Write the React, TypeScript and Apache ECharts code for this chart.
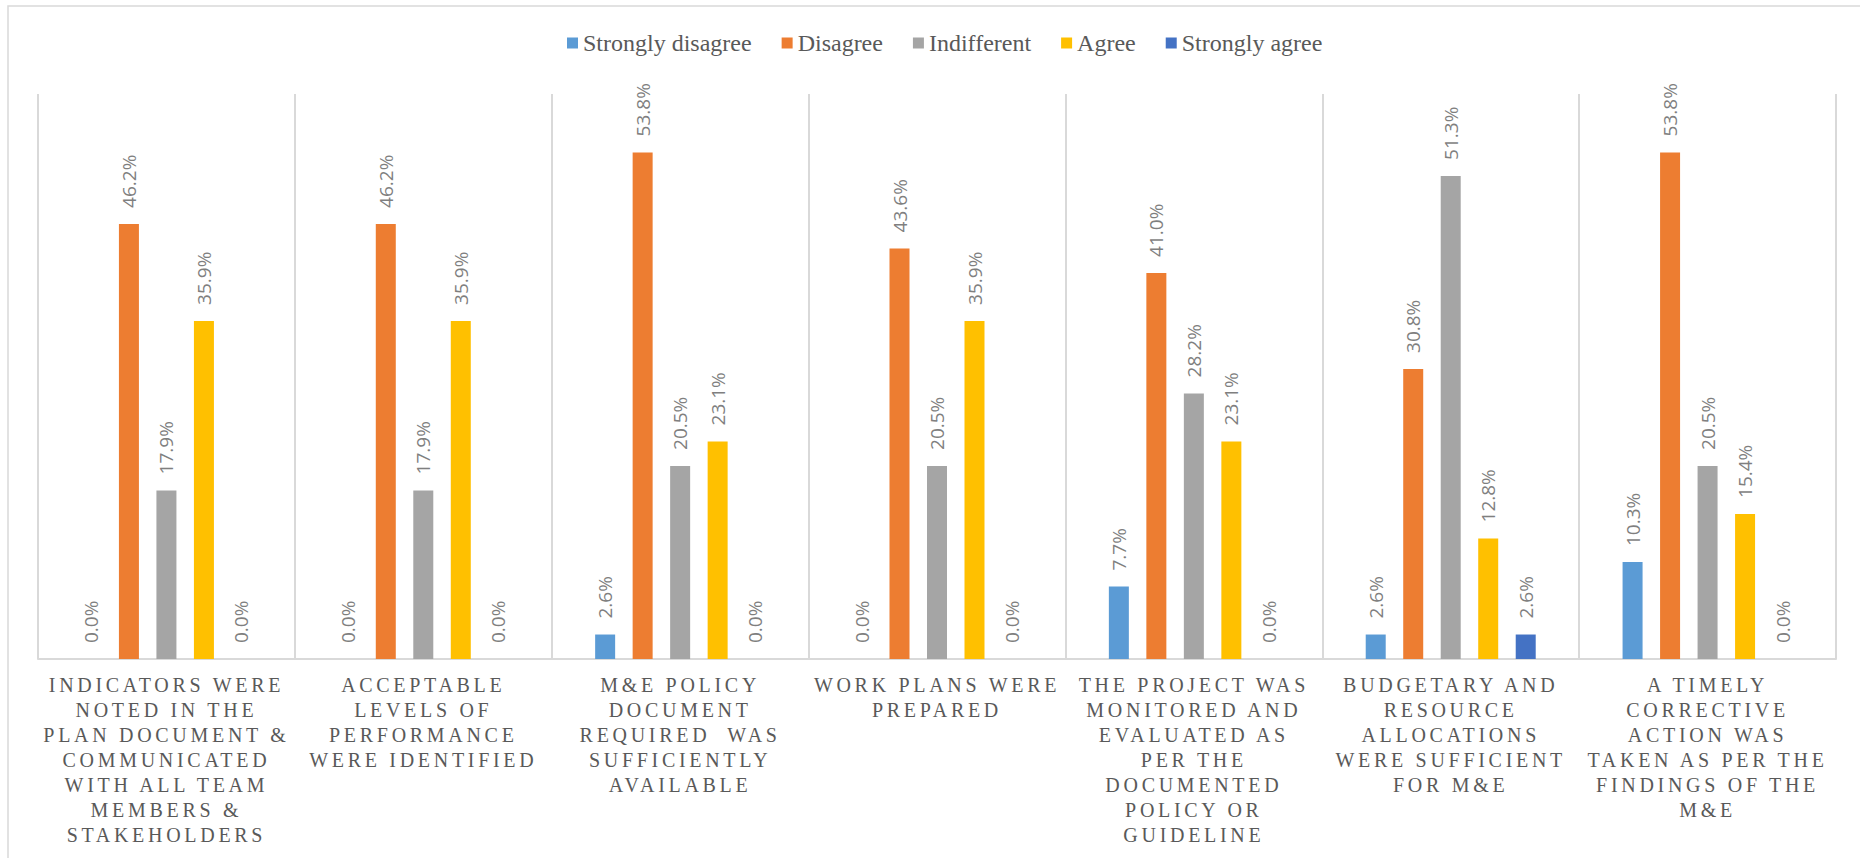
import React, { useEffect, useRef } from "react";
import * as echarts from "echarts";

const categories: string[] = [
  "INDICATORS WERE\nNOTED IN THE\nPLAN DOCUMENT &\nCOMMUNICATED\nWITH ALL TEAM\nMEMBERS &\nSTAKEHOLDERS",
  "ACCEPTABLE\nLEVELS OF\nPERFORMANCE\nWERE IDENTIFIED",
  "M&E POLICY\nDOCUMENT\nREQUIRED  WAS\nSUFFICIENTLY\nAVAILABLE",
  "WORK PLANS WERE\nPREPARED",
  "THE PROJECT WAS\nMONITORED AND\nEVALUATED AS\nPER THE\nDOCUMENTED\nPOLICY OR\nGUIDELINE",
  "BUDGETARY AND\nRESOURCE\nALLOCATIONS\nWERE SUFFICIENT\nFOR M&E",
  "A TIMELY\nCORRECTIVE\nACTION WAS\nTAKEN AS PER THE\nFINDINGS OF THE\nM&E",
];

const seriesNames: string[] = ["Strongly disagree", "Disagree", "Indifferent", "Agree", "Strongly agree"];

const stronglyDisagree: number[] = [0, 0, 2.6, 0, 7.7, 2.6, 10.3];
const disagree: number[] = [46.2, 46.2, 53.8, 43.6, 41.0, 30.8, 53.8];
const indifferent: number[] = [17.9, 17.9, 20.5, 20.5, 28.2, 51.3, 20.5];
const agree: number[] = [35.9, 35.9, 23.1, 35.9, 23.1, 12.8, 15.4];
const stronglyAgree: number[] = [0, 0, 0, 0, 0, 2.6, 0];

const seriesValues: number[][] = [stronglyDisagree, disagree, indifferent, agree, stronglyAgree];
const seriesColors: string[] = ["#5B9BD5", "#ED7D31", "#A5A5A5", "#FFC000", "#4472C4"];

const SERIF = "'Liberation Serif', 'Times New Roman', serif";
const SANS = "'Open Sans', sans-serif";

export default function App() {
  const ref = useRef<HTMLDivElement>(null);

  useEffect(() => {
    if (!ref.current) return;
    const chart = echarts.init(ref.current, undefined, { renderer: "svg" });

    const series = seriesNames.map((name, i) => ({
      name,
      type: "bar" as const,
      data: seriesValues[i],
      barWidth: 20,
      barGap: "87.5%",
      itemStyle: { color: seriesColors[i] },
      label: {
        show: true,
        position: "top" as const,
        rotate: 90,
        align: "left" as const,
        verticalAlign: "middle" as const,
        distance: 16,
        fontFamily: SANS,
        fontSize: 19,
        color: "#7f7f7f",
        formatter: (p: any) => Number(p.value).toFixed(1) + "%",
      },
    }));

    chart.setOption({
      animation: false,
      backgroundColor: "#ffffff",
      textStyle: { fontFamily: SERIF },
      graphic: [
        {
          type: "rect",
          silent: true,
          shape: { x: 8, y: 6, width: 1900, height: 900 },
          style: { fill: "none", stroke: "#d9d9d9", lineWidth: 1.5 },
        },
      ],
      legend: {
        top: 24,
        left: 562,
        itemWidth: 11,
        itemHeight: 11,
        itemGap: 30,
        icon: "rect",
        textStyle: {
          fontFamily: SERIF,
          fontSize: 24,
          color: "#595959",
          lineHeight: 28,
        },
        data: seriesNames,
      },
      grid: { left: 38, right: 24, top: 94, bottom: 199, containLabel: false },
      xAxis: {
        type: "category",
        data: categories,
        axisLine: { show: true, lineStyle: { color: "#d9d9d9", width: 2 } },
        axisTick: { show: false },
        splitLine: { show: true, interval: 0, lineStyle: { color: "#d9d9d9", width: 2 } },
        axisLabel: {
          interval: 0,
          margin: 13,
          fontFamily: SERIF,
          fontSize: 20,
          lineHeight: 25,
          color: "#595959",
          verticalAlign: "top",
        },
      },
      yAxis: {
        type: "value",
        min: 0,
        max: 60,
        show: false,
        splitLine: { show: false },
      },
      series,
    });

    // widen the category labels' letter spacing
    const lineSet = new Set<string>();
    categories.forEach((c) => c.split("\n").forEach((l) => lineSet.add(l)));
    ref.current.querySelectorAll("text").forEach((t) => {
      const s = t.textContent || "";
      if (lineSet.has(s)) {
        t.setAttribute("letter-spacing", "3.7px");
      }
    });

    return () => chart.dispose();
  }, []);

  return (
    <div
      ref={ref}
      style={{ position: "absolute", left: 0, top: 0, width: 1860, height: 858 }}
    />
  );
}
